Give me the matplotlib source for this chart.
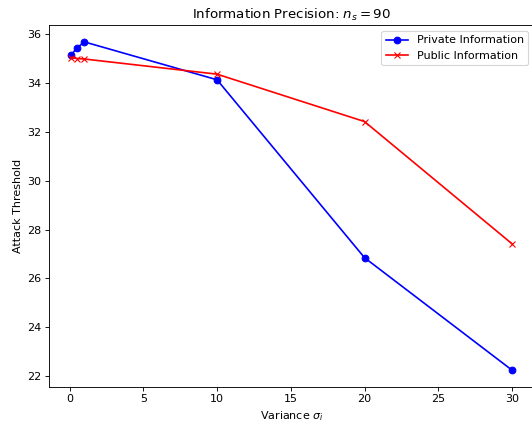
import matplotlib
matplotlib.use('Agg')
import matplotlib.pyplot as plt

variance = [0.1, 0.5, 1, 10, 20, 30]
private_info = [35.14, 35.43, 35.68, 34.13, 26.85, 22.25]
public_info = [35.04, 35.0, 34.98, 34.36, 32.42, 27.42]

# reference looks like it was rendered at ~80 dpi
fig = plt.figure(figsize=(6.65, 5.3), dpi=80)
ax = fig.add_axes([0.0921, 0.0884, 0.9117, 0.8515])

ax.plot(variance, private_info, 'b-o', label='Private Information')
ax.plot(variance, public_info, 'r-x', label='Public Information')

ax.set_title(r'Information Precision: $n_s = 90$')
ax.set_xlabel(r'Variance $\sigma_i$')
ax.set_ylabel('Attack Threshold')
ax.legend(loc='upper right')

fig.savefig('out.png', dpi=80)
